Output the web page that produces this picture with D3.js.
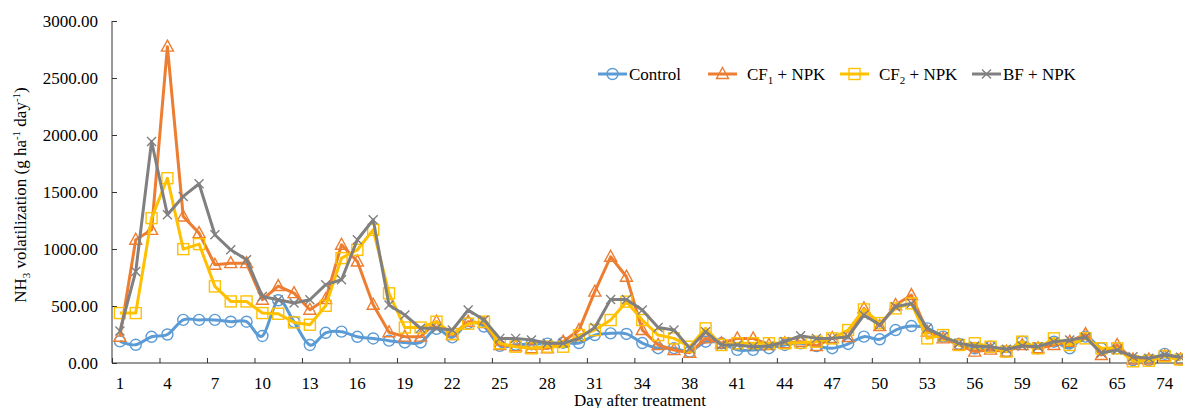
<!DOCTYPE html>
<html>
<head>
<meta charset="utf-8">
<script src="https://cdn.jsdelivr.net/npm/d3@7"></script>
<style>
  body { margin: 0; background: #fff; }
  text { font-family: "Liberation Serif", "Times New Roman", serif; fill: #000; }
</style>
</head>
<body>
<div id="chart"></div>
<script>
// sampling days (every third one is labelled on the axis)
var days = [1,2,3,4,5,6,7,8,9,10,11,12,13,14,15,16,17,18,19,20,21,22,23,24,25,26,27,28,29,30,31,32,33,34,
            35,36,38,39,40,41,42,43,44,45,46,47,48,49,50,51,52,53,54,55,56,57,58,59,60,61,62,63,64,65,68,71,74,77];

var control = [190,160,230,250,378,378,378,362,362,237,550,360,158,265,275,230,215,196,180,180,
               300,225,350,320,150,160,165,170,178,175,245,260,255,175,130,130,100,187,173,115,
               115,130,158,173,149,130,167,231,208,289,324,304,231,167,129,143,100,187,129,187,
               129,231,129,129,25,25,80,30];
var cf1 = [230,1081,1168,2775,1285,1139,862,876,876,555,675,613,467,560,1037,891,511,270,231,231,
           362,245,362,350,158,147,129,129,187,289,626,932,757,289,158,114,90,216,173,216,
           216,158,173,187,149,219,228,479,324,509,596,275,216,158,100,117,100,158,129,158,
           187,254,70,158,30,30,60,30];
var cf2 = [438,438,1271,1621,999,1043,672,540,540,438,432,356,336,502,920,993,1168,611,311,311,
           362,254,345,362,173,143,129,143,143,245,289,377,538,377,245,216,143,304,158,173,
           173,173,173,178,187,216,289,470,350,479,523,216,245,158,173,143,100,187,129,216,
           158,216,129,129,15,20,60,30];
var bf = [280,803,1943,1300,1461,1572,1125,993,906,584,555,526,555,687,730,1081,1256,509,421,304,
          304,289,465,377,216,216,202,173,173,216,311,558,558,465,311,289,129,275,158,158,
          143,149,187,239,216,216,231,421,333,494,523,304,231,173,149,143,120,149,143,187,
          202,225,88,114,55,41,70,50];

var yTicks = [0, 500, 1000, 1500, 2000, 2500, 3000];

var series = [
  {name: "Control", values: control, color: "#5B9BD5", marker: "circle", smooth: true},
  {name: "CF1", sub: "1", values: cf1, color: "#ED7D31", marker: "triangle"},
  {name: "CF2", sub: "2", values: cf2, color: "#FFC000", marker: "square"},
  {name: "BF", values: bf, color: "#808080", marker: "cross"}
];

var width = 1183, height = 408;
var plotLeft = 112, plotTop = 21, plotBottom = 363;
var step = 15.83;

var svg = d3.select("#chart").append("svg")
    .attr("width", width)
    .attr("height", height);

var idx = d3.range(days.length);
var x = d3.scaleBand().domain(idx).range([plotLeft, plotLeft + days.length * step]).padding(0);
var xb = d3.scaleLinear().domain([0, days.length]).range([plotLeft, plotLeft + days.length * step]);
var y = d3.scaleLinear().domain([0, 3000]).range([plotBottom, plotTop]);

function cx(i) { return x(i) + x.bandwidth() / 2; }

// axes
var yAxis = d3.axisLeft(y).tickValues(yTicks).tickSize(-5).tickPadding(14)
    .tickFormat(d3.format(".2f"));
var gy = svg.append("g").attr("transform", "translate(" + plotLeft + ",0)").call(yAxis);
gy.select(".domain").attr("stroke", "#333").attr("d", "M0," + plotTop + "V" + plotBottom);
gy.selectAll(".tick line").attr("stroke", "#333");
gy.selectAll("text").style("font-size", "17px").attr("fill", "#000");

var gx = svg.append("g").attr("transform", "translate(0," + plotBottom + ")")
    .call(d3.axisBottom(xb).tickValues(d3.range(0, days.length, 3)).tickSize(-5).tickFormat(""));
gx.select(".domain").attr("stroke", "#333").attr("d", "M" + plotLeft + ",0H" + width);
gx.selectAll(".tick line").attr("stroke", "#333");

var gxl = svg.append("g").attr("transform", "translate(0," + plotBottom + ")")
    .call(d3.axisBottom(x).tickValues(idx.filter(function(i){ return i % 3 == 0; }))
      .tickSize(0).tickPadding(14).tickFormat(function(i){ return days[i]; }));
gxl.select(".domain").remove();
gxl.selectAll("text").style("font-size", "17px").attr("fill", "#000");

svg.append("text")
    .attr("x", 640).attr("y", 406)
    .style("text-anchor", "middle").style("font-size", "17px")
    .text("Day after treatment");

var ylab = svg.append("text")
    .attr("transform", "translate(26,195) rotate(-90)")
    .style("text-anchor", "middle").style("font-size", "17px");
ylab.append("tspan").text("NH");
ylab.append("tspan").attr("dy", 4).style("font-size", "11px").text("3");
ylab.append("tspan").attr("dy", -4).text(" volatilization (g ha");
ylab.append("tspan").attr("dy", -6).style("font-size", "11px").text("-1");
ylab.append("tspan").attr("dy", 6).text(" day");
ylab.append("tspan").attr("dy", -6).style("font-size", "11px").text("-1");
ylab.append("tspan").attr("dy", 6).text(")");

// markers
function drawMarker(g, type, color) {
  if (type == "circle") {
    g.append("circle").attr("r", 5.5);
  } else if (type == "triangle") {
    g.append("path").attr("d", "M0,-6.5L6,4.5L-6,4.5Z");
  } else if (type == "square") {
    g.append("rect").attr("x", -5.5).attr("y", -5.5).attr("width", 11).attr("height", 11);
  } else {
    g.append("path").attr("d", "M-4.5,-4.5L4.5,4.5M-4.5,4.5L4.5,-4.5");
  }
  g.selectAll("*").attr("fill", "none").attr("stroke", color).attr("stroke-width", 1.4);
}

var plot = svg.append("g");
series.forEach(function(s) {
  var line = d3.line()
      .x(function(d, i) { return cx(i); })
      .y(function(d) { return y(d); })
      .curve(s.smooth ? d3.curveCatmullRom.alpha(0) : d3.curveLinear);

  plot.append("path")
      .datum(s.values)
      .attr("fill", "none")
      .attr("stroke", s.color)
      .attr("stroke-width", 3)
      .attr("stroke-linejoin", "round")
      .attr("d", line);

  plot.selectAll(".m-" + s.marker)
      .data(s.values)
      .enter().append("g")
      .attr("class", "m-" + s.marker)
      .attr("transform", function(d, i) { return "translate(" + cx(i) + "," + y(d) + ")"; })
      .each(function() { drawMarker(d3.select(this), s.marker, s.color); });
});

// legend
var legendX = [598, 708, 840, 972];
var legend = svg.append("g");
series.forEach(function(s, k) {
  var g = legend.append("g").attr("transform", "translate(" + legendX[k] + ",74)");
  g.append("line").attr("x1", 0).attr("x2", 29).attr("stroke", s.color).attr("stroke-width", 3);
  var m = g.append("g").attr("transform", "translate(14.5,0)");
  drawMarker(m, s.marker, s.color);
  var t = g.append("text").attr("y", 6).style("font-size", "17px");
  if (s.name == "Control") {
    t.attr("x", 31).text("Control");
  } else if (s.sub) {
    t.attr("x", 39);
    t.append("tspan").text("CF");
    t.append("tspan").attr("dy", 4).style("font-size", "11px").text(s.sub);
    t.append("tspan").attr("dy", -4).text(" + NPK");
  } else {
    t.attr("x", 31).text("BF + NPK");
  }
});
</script>
</body>
</html>
